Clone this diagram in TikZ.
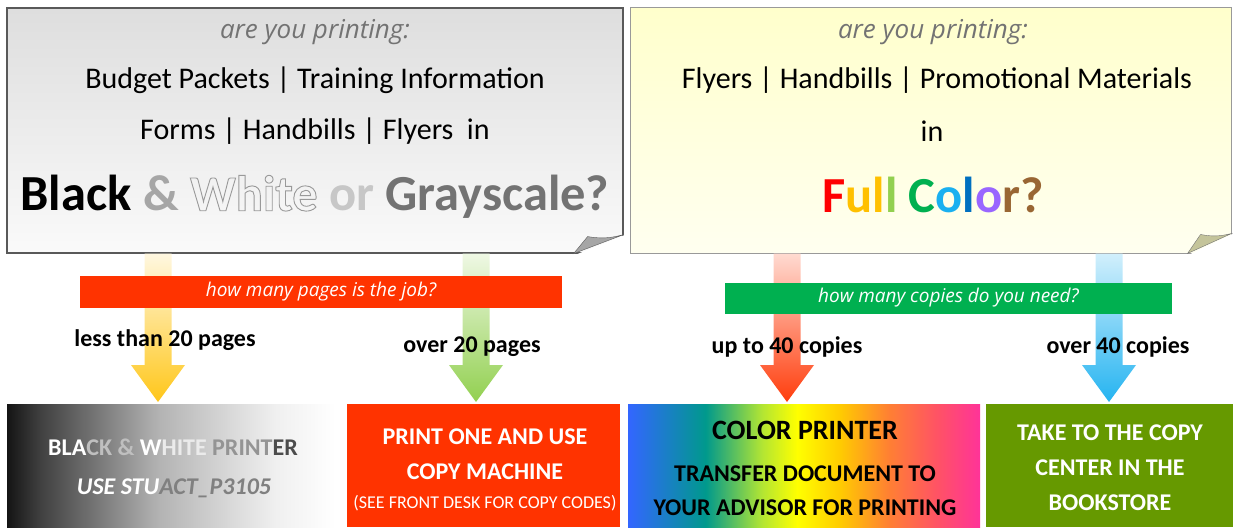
\documentclass[tikz,border=0pt]{standalone}
\usepackage{fontspec}
\setmainfont{Carlito}
\newfontfamily\thinfont{Open Sans}
\usetikzlibrary{positioning,calc}

\definecolor{bannerred}{HTML}{FF3300}
\definecolor{bannergreen}{HTML}{00B050}
\definecolor{olive}{HTML}{669900}
\definecolor{goldish}{HTML}{FFC000}
\definecolor{limeish}{HTML}{92D050}
\definecolor{skyish}{HTML}{1AB0F0}
\definecolor{paleyellow}{HTML}{FFFFCC}
\definecolor{flapgray}{HTML}{A6A6A6}
\definecolor{flapkhaki}{HTML}{C4C49A}

\pgfdeclarehorizontalshading{bwshade}{100bp}{color(0bp)=(black!92); color(25bp)=(black!92);
  color(30bp)=(black!75); color(40bp)=(black!50); color(48bp)=(black!30);
  color(59bp)=(black!15); color(66bp)=(black!6); color(75bp)=(white); color(100bp)=(white)}
\pgfdeclarehorizontalshading{rainbow}{100bp}{rgb(0bp)=(0.2,0.4,1); rgb(25bp)=(0.2,0.4,1);
  rgb(36bp)=(0,0.6,0.55); rgb(44bp)=(0.7,0.9,0.2); rgb(49bp)=(1,1,0); rgb(55bp)=(1,0.8,0);
  rgb(62bp)=(1,0.5,0.2); rgb(69bp)=(1,0.32,0.4); rgb(75bp)=(1,0.2,0.6); rgb(100bp)=(1,0.2,0.6)}

\newcommand\outlined[1]{\special{pdf:literal direct 1 Tr 0.9 w}#1\special{pdf:literal direct 0 Tr}}

% fat shaded arrow: from, to, top colour, bottom colour
\newcommand\fatarrow[4]{%
  \path[top color=#3, bottom color=#4] let \p1=(#1), \p2=(#2) in
    (\x1-13.5pt,\y1) -- (\x1+13.5pt,\y1) -- (\x1+13.5pt,\y2+37pt) -- (\x1+27pt,\y2+37pt)
    -- (\x2,\y2) -- (\x1-27pt,\y2+37pt) -- (\x1-13.5pt,\y2+37pt) -- cycle;}

\begin{document}
\begin{tikzpicture}[x=1pt,y=-1pt,
    qline/.style={font=\fontsize{30}{36}\selectfont},
    ask/.style={font=\thinfont\itshape\fontsize{26}{30}\selectfont, text=black!55},
    bigq/.style={font=\bfseries\fontsize{50.5}{58}\selectfont},
    banner/.style={inner sep=0pt, text=white, font=\thinfont\itshape\fontsize{19}{22}\selectfont},
    answer/.style={font=\bfseries\fontsize{24}{28}\selectfont},
    outbox/.style={inner sep=0pt, anchor=north west},
    outtext/.style={font=\bfseries\fontsize{24}{28}\selectfont}]
  \useasboundingbox (0,0) rectangle (1233,527);

  % question boxes
  \node[draw=black!65, line width=1.2pt, top color=black!13, bottom color=black!2,
    minimum width=616pt, minimum height=245pt, inner sep=0pt] (bwq) at (315,130.5) {};
  \node[draw=black!40, line width=1pt, top color=paleyellow, bottom color=paleyellow!30,
    minimum width=601pt, minimum height=245pt, inner sep=0pt] (fcq) at (930.5,130.5) {};
  % folded corners
  \fill[white] ([xshift=-50pt,yshift=-2pt]bwq.south east) -- ([xshift=2pt,yshift=-2pt]bwq.south east)
    -- ([xshift=2pt,yshift=19pt]bwq.south east) -- cycle;
  \draw[black!65, fill=flapgray] ([xshift=-50pt]bwq.south east) -- ([yshift=19pt]bwq.south east)
    to[bend left=12] ([xshift=-36pt,yshift=17pt]bwq.south east) -- cycle;
  \fill[white] ([xshift=-44pt,yshift=-2pt]fcq.south east) -- ([xshift=2pt,yshift=-2pt]fcq.south east)
    -- ([xshift=2pt,yshift=20pt]fcq.south east) -- cycle;
  \draw[black!55, fill=flapkhaki] ([xshift=-44pt]fcq.south east) -- ([yshift=20pt]fcq.south east)
    to[bend left=12] ([xshift=-31pt,yshift=19pt]fcq.south east) -- cycle;

  % black and white question
  \node[ask] (bwask) at (315,32) {are you printing:};
  \node[qline] (bwl1) at (315,80) {Budget Packets | Training Information};
  \node[qline] (bwl2) at (315,131) {Forms | Handbills | Flyers~~in};
  \node[bigq] (bwl3) at (315,197) {Black \textcolor{black!35}{\&}
    \textcolor{black!40}{\outlined{White}} \textcolor{black!22}{or} \textcolor{black!55}{Grayscale?}};
  % colour question
  \node[ask] (fcask) at (933,32) {are you printing:};
  \node[qline] (fcl1) at (937,80) {Flyers | Handbills | Promotional Materials};
  \node[qline] (fcl2) at (932,131) {in};
  \node[bigq] (fcl3) at (933,195) {\textcolor{red}{F}\textcolor{goldish}{ul}\textcolor{limeish}{l}
    \textcolor{bannergreen}{C}\textcolor{skyish}{o}\textcolor[HTML]{0070C0}{l}\textcolor[HTML]{9966FF}{o}\textcolor[HTML]{996633}{r?}};

  % outcome boxes
  \node[outbox, shading=bwshade, minimum width=328pt, minimum height=123pt] (bwp) at (7,404) {};
  \node[outbox, fill=bannerred, minimum width=273pt, minimum height=123pt] (cpm) at (347,404) {};
  \node[outbox, shading=rainbow, minimum width=352pt, minimum height=123pt] (clp) at (628,404) {};
  \node[outbox, fill=olive, minimum width=247pt, minimum height=123pt] (ccb) at (986,404) {};

  % arrows
  \coordinate (a1) at (158,0);
  \coordinate (a2) at (476,0);
  \coordinate (a3) at (787,0);
  \coordinate (a4) at (1109,0);
  \fatarrow{bwq.south -| a1}{[yshift=2pt]bwp.north -| a1}{goldish!12}{goldish!90}
  \fatarrow{bwq.south -| a2}{[yshift=2pt]cpm.north -| a2}{limeish!15}{limeish}
  \fatarrow{fcq.south -| a3}{[yshift=2pt]clp.north -| a3}{bannerred!18}{bannerred!95}
  \fatarrow{fcq.south -| a4}{[yshift=2pt]ccb.north -| a4}{skyish!20}{skyish!95}

  % banners
  \node[banner, fill=bannerred, minimum width=482pt, minimum height=32pt] (pq) at (321,292) {how many pages is the job?};
  \node[banner, fill=bannergreen, minimum width=447pt, minimum height=31pt] (cq) at (948.5,298) {how many copies do you need?};

  % answers
  \node[answer] (lt20) at (165,340) {less than 20 pages};
  \node[answer] (ov20) at (472,347) {over 20 pages};
  \node[answer] (up40) at (787,347) {up to 40 copies};
  \node[answer] (ov40) at (1118,347) {over 40 copies};

  % outcome texts
  \node[outtext] (bwt1) at (173,447) {\textcolor{white}{BLA}\textcolor{black!25}{CK \&}
    \textcolor{white}{W}\textcolor{black!8}{HITE} \textcolor{black!42}{PRINT}\textcolor{black!70}{ER}};
  \node[outtext, font=\bfseries\itshape\fontsize{24}{28}\selectfont] (bwt2) at (174,488)
    {\textcolor{white}{USE STU}\textcolor{black!50}{ACT\_P3105}};
  \node[outtext, text=white] (cpt1) at (485,437) {PRINT ONE AND USE};
  \node[outtext, text=white] (cpt2) at (485,472) {COPY MACHINE};
  \node[outtext, text=white, font=\fontsize{18}{21}\selectfont] (cpt3) at (485,503) {(SEE FRONT DESK FOR COPY CODES)};
  \node[outtext, font=\bfseries\fontsize{28}{32}\selectfont] (clt1) at (805,430) {COLOR PRINTER};
  \node[outtext] (clt2) at (805,474) {TRANSFER DOCUMENT TO};
  \node[outtext] (clt3) at (805,508) {YOUR ADVISOR FOR PRINTING};
  \node[outtext, text=white] (cct1) at (1110,433) {TAKE TO THE COPY};
  \node[outtext, text=white] (cct2) at (1110,468) {CENTER IN THE};
  \node[outtext, text=white] (cct3) at (1110,503) {BOOKSTORE};
\end{tikzpicture}
\end{document}
